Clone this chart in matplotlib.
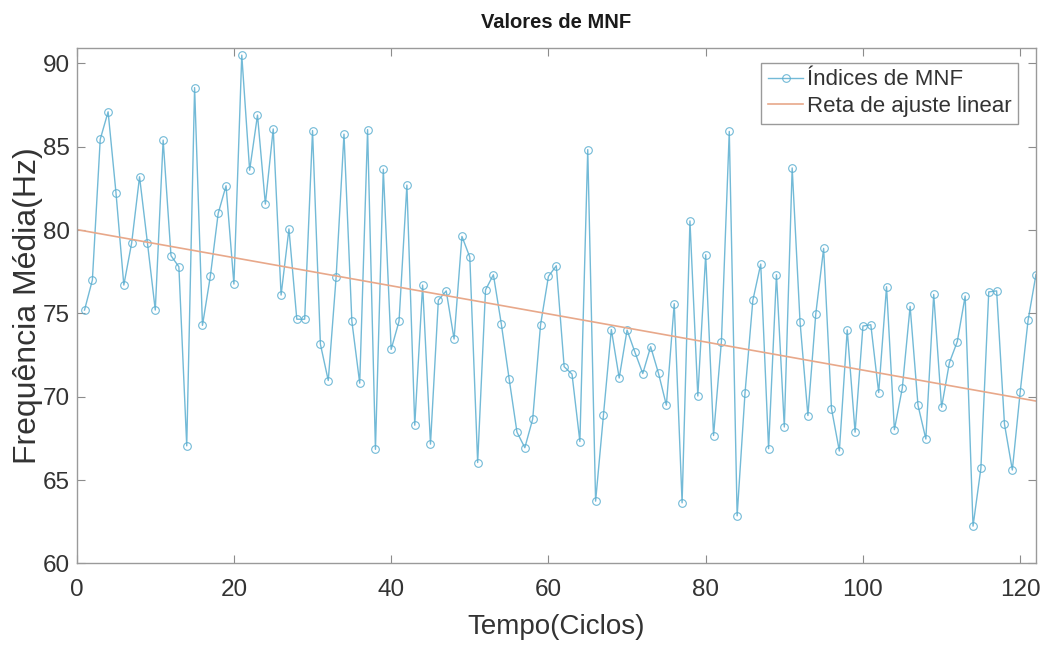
import matplotlib.pyplot as plt
import numpy as np

plt.rcParams.update({'font.family': ['Liberation Sans', 'DejaVu Sans'], 'font.size': 15})

# MNF values per cycle
ciclos = np.arange(1, 123)
mnf = [
    75.2, 77.0, 85.45, 87.1, 82.25, 76.7, 79.24, 83.2, 79.24, 75.2,
    85.4, 78.46, 77.8, 67.05, 88.55, 74.28, 77.22, 81.0, 82.66, 76.76,
    90.5, 83.59, 86.9, 81.56, 86.07, 76.1, 80.07, 74.65, 74.65, 85.97,
    73.15, 70.97, 77.18, 85.76, 74.53, 70.81, 86.03, 66.84, 83.65, 72.84,
    74.53, 82.7, 68.29, 76.7, 67.15, 75.79, 76.35, 73.46, 79.62, 78.38,
    66.05, 76.41, 77.32, 74.39, 71.08, 67.87, 66.94, 68.66, 74.32, 77.22,
    77.86, 71.8, 71.35, 67.31, 84.83, 63.73, 68.91, 74.03, 71.12, 74.0,
    72.67, 71.39, 73.0, 71.4, 69.49, 75.58, 63.63, 80.55, 70.04, 78.52,
    67.67, 73.31, 85.92, 62.85, 70.21, 75.79, 77.96, 66.88, 77.32, 68.18,
    83.73, 74.49, 68.87, 74.96, 78.9, 69.28, 66.74, 74.01, 67.87, 74.24,
    74.32, 70.25, 76.6, 68.02, 70.5, 75.42, 69.49, 67.46, 76.14, 69.36,
    72.05, 73.31, 76.04, 62.23, 65.7, 76.29, 76.35, 68.35, 65.6, 70.29,
    74.58, 77.32,
]

# linear fit
coef = np.polyfit(ciclos, mnf, 1)
x_fit = np.array([0, 122])
y_fit = np.polyval(coef, x_fit)

txt = '#333333'
fig = plt.figure(figsize=(10.5, 6.46), dpi=100)
ax = fig.add_axes([0.0730, 0.128, 0.9136, 0.798])

ax.plot(ciclos, mnf, color='#5aaed0', linewidth=1.0, marker='o', markersize=5.5,
        markerfacecolor='none', markeredgewidth=0.8, alpha=0.85, label='Índices de MNF')
ax.plot(x_fit, y_fit, color='#e8a88a', linewidth=1.2, label='Reta de ajuste linear')

ax.set_xlim(0, 122)
ax.set_ylim(60, 90.94)
ax.set_xticks(np.arange(0, 121, 20))
ax.set_yticks(np.arange(60, 91, 5))
ax.tick_params(direction='in', top=True, right=True, labelsize=17.5, labelcolor=txt,
               color='#8c8c8c', length=6)
ax.tick_params(axis='x', pad=11)
ax.tick_params(axis='y', pad=5)
for s in ax.spines.values():
    s.set_color('#9a9a9a')
    s.set_linewidth(1.0)

ax.set_xlabel('Tempo(Ciclos)', fontsize=20, color=txt, labelpad=10)
ax.set_ylabel('Frequência Média(Hz)', fontsize=23, color=txt, labelpad=0)
ax.set_title('Valores de MNF', fontsize=14.5, fontweight='bold', pad=14, color='#1a1a1a')

leg = ax.legend(loc='upper right', bbox_to_anchor=(1018 / 1050, 1 - 62.7 / 646),
                bbox_transform=fig.transFigure, borderaxespad=0, fontsize=16,
                fancybox=False, framealpha=1, edgecolor='#9a9a9a', handlelength=1.6,
                handletextpad=0.15, borderpad=0.3, labelspacing=0.25)
leg.get_frame().set_linewidth(1.0)
for t in leg.get_texts():
    t.set_color(txt)

fig.savefig('out.png', dpi=100)
